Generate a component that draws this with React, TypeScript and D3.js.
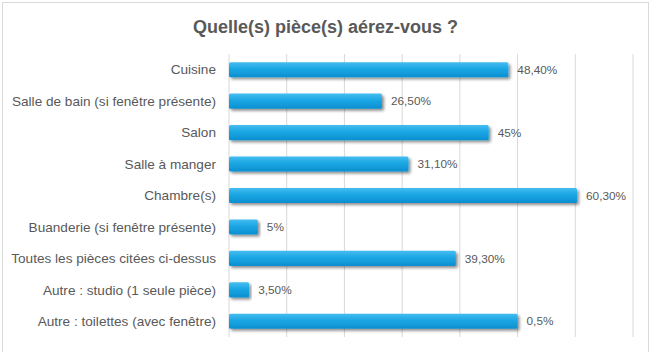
import React from "react";
import * as d3 from "d3";

const title = "Quelle(s) pièce(s) aérez-vous ?";

const categories = [
  "Cuisine",
  "Salle de bain (si fenêtre présente)",
  "Salon",
  "Salle à manger",
  "Chambre(s)",
  "Buanderie (si fenêtre présente)",
  "Toutes les pièces citées ci-dessus",
  "Autre : studio (1 seule pièce)",
  "Autre : toilettes (avec fenêtre)",
];

// percentages shown as bar lengths
const values = [48.4, 26.5, 45, 31.1, 60.3, 5, 39.3, 3.5, 50];

// text printed at the end of each bar
const valueLabels = ["48,40%", "26,50%", "45%", "31,10%", "60,30%", "5%", "39,30%", "3,50%", "0,5%"];

const xTicks = [0, 10, 20, 30, 40, 50, 60, 70];

const W = 651;
const H = 352;
const margin = { left: 229, right: 18, top: 54, bottom: 15 };

export default function App() {
  const x = d3.scaleLinear().domain([0, 70]).range([margin.left, W - margin.right]);
  const y = d3
    .scaleBand<string>()
    .domain(categories)
    .range([margin.top, H - margin.bottom])
    .paddingInner(0.52)
    .paddingOuter(0.26);

  const font = "'Liberation Sans', Arial, sans-serif";

  return (
    <svg
      width={W}
      height={H}
      style={{ position: "absolute", left: 0, top: 0, background: "#fff" }}
      fontFamily={font}
    >
      <defs>
        <linearGradient id="barFill" x1="0" y1="0" x2="0" y2="1">
          <stop offset="0" stopColor="#45BDF0" />
          <stop offset="0.45" stopColor="#1AA6E4" />
          <stop offset="1" stopColor="#0C8FD0" />
        </linearGradient>
        <filter id="barShadow" x="-5%" y="-30%" width="115%" height="190%">
          <feGaussianBlur in="SourceAlpha" stdDeviation="1.4" />
          <feOffset dx="1.5" dy="2" result="off" />
          <feComponentTransfer>
            <feFuncA type="linear" slope="0.45" />
          </feComponentTransfer>
          <feMerge>
            <feMergeNode />
            <feMergeNode in="SourceGraphic" />
          </feMerge>
        </filter>
      </defs>

      <rect x={2.5} y={2.5} width={646} height={H + 10} fill="#fff" stroke="#D9D9D9" strokeWidth={1} />

      <text
        x={W / 2}
        y={33}
        textAnchor="middle"
        fontSize={18}
        fontWeight="bold"
        fill="#595959"
      >
        {title}
      </text>

      {/* vertical gridlines */}
      {xTicks.slice(1).map((t) => (
        <line
          key={t}
          x1={x(t)}
          x2={x(t)}
          y1={margin.top}
          y2={H - margin.bottom}
          stroke="#D9D9D9"
          strokeWidth={1}
        />
      ))}
      <line
        x1={x(0)}
        x2={x(0)}
        y1={margin.top}
        y2={H - margin.bottom}
        stroke="#D9D9D9"
        strokeWidth={1}
      />

      {categories.map((c, i) => {
        const by = y(c)!;
        const bh = y.bandwidth();
        return (
          <g key={c}>
            <text
              x={216}
              y={by + bh / 2}
              dy="0.35em"
              textAnchor="end"
              fontSize={13.6}
              fill="#595959"
            >
              {c}
            </text>
            <rect
              x={x(0)}
              y={by}
              width={x(values[i]) - x(0)}
              height={bh}
              rx={1.5}
              fill="url(#barFill)"
              filter="url(#barShadow)"
            />
            <text
              x={x(values[i]) + 9}
              y={by + bh / 2}
              dy="0.35em"
              fontSize={11.8}
              fill="#595959"
            >
              {valueLabels[i]}
            </text>
          </g>
        );
      })}
    </svg>
  );
}
